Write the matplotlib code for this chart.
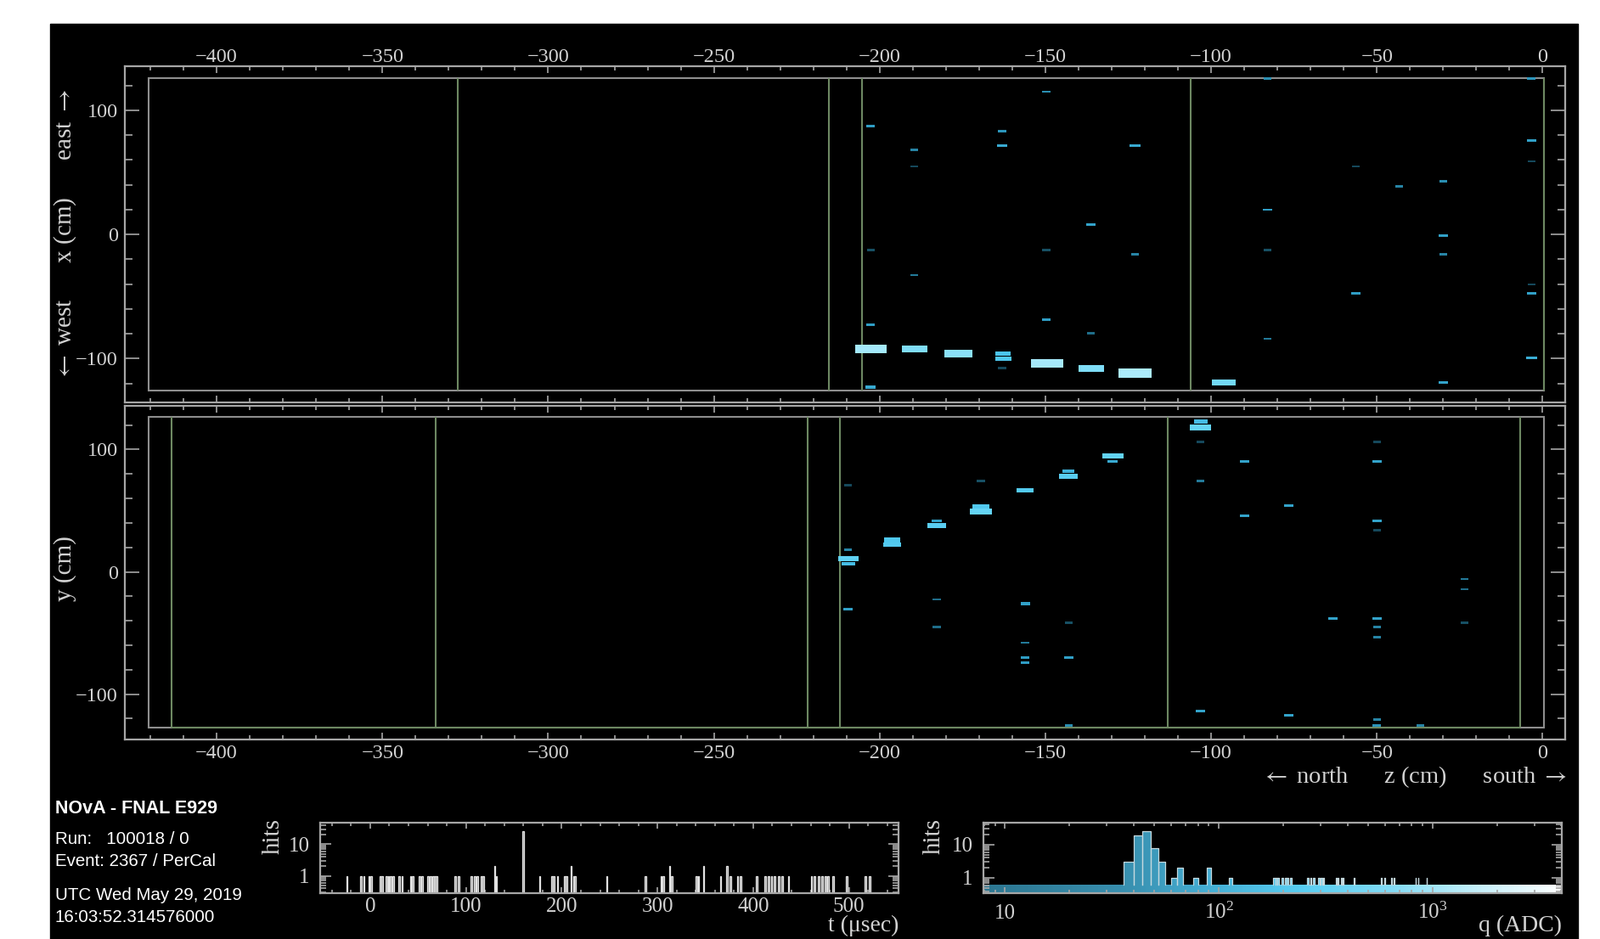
import numpy as np
import matplotlib
matplotlib.use('Agg')
import matplotlib.pyplot as plt
from matplotlib.patches import Rectangle, Polygon
from matplotlib.colors import LinearSegmentedColormap, Normalize
from matplotlib.ticker import MultipleLocator, LogLocator, NullFormatter, FixedLocator, FixedFormatter
import matplotlib.transforms as mtransforms

plt.rcParams['font.family'] = ['Liberation Serif', 'DejaVu Serif', 'DejaVu Sans']
plt.rcParams['mathtext.fontset'] = 'stix'

# detector outline / boundaries (cm)
det_z = [-420.6, 0.3]
det_x = [-126.0, 126.0]
det_y = [-127.3, 126.9]
xz_lines = [-327.4, -215.2, -205.3, -106.3]
yz_lines = [-413.5, -333.9, -221.7, -211.9, -113.1, -6.9]

# hits, top view (z, x, q in ADC)
xz_z = [-202.6, -189.4, -176.2, -162.7, -162.7, -149.4, -136.2, -122.9, -96.2,
        -202.7, -149.7, -163.1, -163.1, -123.0, -189.6, -189.6, -83.0, -3.4, -3.4,
        -3.4, -56.4, -30.0, -43.3, -83.0, -136.3, -30.0, -202.7, -149.7, -83.0,
        -123.0, -30.0, -189.6, -3.4, -56.4, -3.4, -202.7, -149.7, -136.3, -83.0,
        -163.1, -202.7, -30.0, -3.4]
xz_x = [-92.2, -92.0, -95.9, -95.9, -99.9, -103.9, -107.9, -111.7, -119.3,
        87.4, 114.9, 83.3, 71.4, 71.4, 68.2, 54.9, 125.5, 125.5, 75.5,
        59.0, 54.9, 43.0, 38.9, 19.9, 8.0, -1.1, -12.4, -12.4, -12.4,
        -16.0, -16.0, -32.7, -40.3, -47.6, -47.6, -72.5, -68.6, -79.6, -84.0,
        -107.6, -123.0, -119.0, -99.5]
xz_q = [640, 420, 480, 150, 170, 650, 420, 700, 360,
        50, 40, 45, 70, 70, 35, 12, 40, 45, 55,
        12, 12, 40, 35, 50, 60, 55, 14, 14, 14,
        35, 35, 30, 12, 50, 55, 50, 50, 25, 30,
        12, 70, 60, 80]

# hits, side view (z, y, q in ADC)
yz_z = [-209.5, -209.5, -196.2, -196.2, -182.8, -182.8, -169.5, -169.5, -156.1,
        -143.0, -143.0, -129.7, -129.7, -103.2, -103.2,
        -209.5, -209.5, -209.5, -169.5, -182.8, -182.8, -156.1, -156.1, -156.1,
        -156.1, -143.0, -143.0, -143.0, -103.2, -103.2, -103.2, -89.9, -89.9,
        -76.6, -76.6, -63.3, -50.0, -50.0, -50.0, -50.0, -50.0, -50.0, -50.0,
        -50.0, -50.0, -36.8, -23.5, -23.5, -23.5]
yz_y = [10.7, 6.5, 26.0, 22.1, 41.9, 37.7, 53.0, 49.5, 66.5,
        82.0, 78.0, 94.7, 90.2, 122.8, 117.7,
        70.7, 18.1, -30.2, 74.4, -22.6, -45.1, -26.0, -57.9, -70.2,
        -74.2, -41.4, -70.2, -125.6, 106.0, 74.4, -113.5, 90.5, 45.8,
        54.0, -117.4, -37.9, 106.0, 90.5, 41.9, 34.2, -37.9, -45.1, -53.5,
        -120.9, -125.6, -125.6, -5.8, -14.2, -41.4]
yz_q = [260, 120, 170, 190, 60, 230, 180, 300, 190,
        90, 220, 280, 70, 120, 300,
        12, 35, 55, 14, 25, 25, 55, 30, 50,
        50, 14, 55, 40, 12, 30, 60, 60, 60,
        60, 60, 60, 12, 60, 60, 12, 60, 35, 35,
        35, 45, 35, 30, 25, 14]

# timing histogram (usec, hits)
t_vals = [-24.3, -9.5, -6.5, -1.2, 0.9, 10.4, 12.7, 17.2, 19.2, 21.6, 24.0, 30.5,
          33.4, 42.3, 44.7, 51.2, 54.1, 60.1, 63.0, 65.4, 67.5, 69.5, 88.8, 92.6,
          105.9, 108.9, 111.8, 116.3, 118.3, 129.9, 131.7, 159.8, 176.9, 189.6,
          191.7, 195.6, 203.0, 205.0, 209.8, 212.4, 213.9, 247.0, 287.6, 303.8,
          306.2, 312.7, 314.8, 340.8, 342.9, 348.2, 366.0, 372.5, 376.3, 383.7,
          386.7, 403.8, 412.7, 416.3, 419.2, 422.2, 426.6, 430.5, 437.0, 460.7,
          464.2, 468.1, 471.9, 475.4, 478.4, 483.7, 497.6, 516.9, 521.3]
t_counts = [1] * len(t_vals)
for tt, cc in [(129.9, 2), (159.8, 26), (209.8, 2), (312.7, 2), (348.2, 2), (372.5, 2)]:
    t_counts[t_vals.index(tt)] = cc

# charge histogram (bin low edge in ADC, 4 ADC bins)
q_bin_lo = [36, 40, 44, 48, 52, 60, 64, 76, 88, 112, 180, 184, 188, 196, 204, 208,
            216, 260, 268, 276, 292, 300, 308, 352, 360, 372, 380, 428, 576, 596,
            640, 660, 832, 856, 940]
q_counts = [3, 19, 25, 8, 3, 1, 2, 1, 2, 1, 1, 1, 1, 1, 1, 1,
            1, 1, 1, 1, 1, 1, 1, 1, 1, 1, 1, 1, 1, 1,
            1, 1, 1, 1, 1]
q_bin_w = 4

info_lines = ['Run:   100018 / 0', 'Event: 2367 / PerCal', 'UTC Wed May 29, 2019',
              '16:03:52.314576000']

W, H = 1884, 1106
FRAME = '#a6a6a6'
TXT = '#d2d2d2'
GREEN = '#6d8862'
BOX = '#8e8e8e'
LARR, RARR = r'$\leftarrow$', r'$\rightarrow$'

hit_cmap = LinearSegmentedColormap.from_list('hits', [
    (0.0, '#123f50'), (0.2, '#1f6e8a'), (0.35, '#2f9dc4'), (0.6, '#4cc6ee'),
    (0.75, '#66d5f5'), (0.9, '#a2e8fb'), (1.0, '#c8f4ff')])
hit_norm = Normalize(1.0, 3.0)
q_cmap = LinearSegmentedColormap.from_list('qadc', [
    (0.0, '#2c7690'), (0.25, '#3890b0'), (0.4, '#45b0d6'), (0.55, '#57cdf2'),
    (0.7, '#7fdaf5'), (0.82, '#b5ecf9'), (1.0, '#ffffff')])

fig = plt.figure(figsize=(W / 100, H / 100), dpi=100, facecolor='white')
fig.patches.append(Rectangle((59 / W, 0), (1858 - 59) / W, (H - 28) / H,
                             transform=fig.transFigure, color='black', zorder=-5))


def px_ax(x0, y0, x1, y1):
    return fig.add_axes([x0 / W, 1 - y1 / H, (x1 - x0) / W, (y1 - y0) / H])


def ftext(x, y, s, **kw):
    fig.text(x / W, 1 - y / H, s, **kw)


def style(ax, size):
    ax.set_facecolor('black')
    for s in ax.spines.values():
        s.set_color(FRAME)
        s.set_linewidth(1.6)
    ax.tick_params(which='both', colors=FRAME, labelcolor=TXT, direction='in',
                   top=True, bottom=True, left=True, right=True, labelsize=size, width=1.2)


def draw_hits(ax, zs, ys, qs):
    for z, y, q in zip(zs, ys, qs):
        s = max(1.0, np.sqrt(q / 40.0))
        w = 2.4 * s
        h = 1.8 * s ** 0.95
        ax.add_patch(Rectangle((z - w / 2, y - h / 2), w, h, linewidth=0,
                               facecolor=hit_cmap(hit_norm(np.log10(q))), zorder=3))


# ---- top view (x vs z) and side view (y vs z)
ax1 = px_ax(147, 78, 1843, 473.5)
ax2 = px_ax(147, 477.5, 1843, 871)
for ax, ylim in [(ax1, (-135, 135.5)), (ax2, (-137, 136))]:
    style(ax, 17.5)
    ax.set_xlim(-427.7, 6.8)
    ax.set_ylim(*ylim)
    ax.xaxis.set_major_locator(MultipleLocator(50))
    ax.xaxis.set_minor_locator(MultipleLocator(10))
    ax.yaxis.set_major_locator(MultipleLocator(100))
    ax.yaxis.set_minor_locator(MultipleLocator(20))
    ax.tick_params(axis='x', which='major', length=6)
    ax.tick_params(axis='x', which='minor', length=3.5)
    ax.tick_params(axis='y', which='major', length=12, pad=6)
    ax.tick_params(axis='y', which='minor', length=6.5)

ax1.tick_params(axis='x', labeltop=True, labelbottom=False, pad=0)
ax2.tick_params(axis='x', labeltop=False, labelbottom=True, pad=4.5)

ax1.add_patch(Rectangle((det_z[0], det_x[0]), det_z[1] - det_z[0], det_x[1] - det_x[0],
                        fill=False, edgecolor=BOX, lw=1.5, zorder=2))
ax1.vlines(xz_lines + [det_z[1]], det_x[0], det_x[1], color=GREEN, lw=1.5, zorder=2)
draw_hits(ax1, xz_z, xz_x, xz_q)

ax2.add_patch(Rectangle((det_z[0], det_y[0]), det_z[1] - det_z[0], det_y[1] - det_y[0],
                        fill=False, edgecolor=BOX, lw=1.5, zorder=2))
ax2.vlines(yz_lines, det_y[0], det_y[1], color=GREEN, lw=1.5, zorder=2)
ax2.hlines(det_y[0], yz_lines[0], yz_lines[-1], color=GREEN, lw=1.5, zorder=2)
draw_hits(ax2, yz_z, yz_y, yz_q)

ftext(77, 277, LARR + ' west      x (cm)      east ' + RARR, rotation=90, ha='center',
      va='center', color=TXT, fontsize=21)
ftext(77, 670, 'y (cm)', rotation=90, ha='center', va='center', color=TXT, fontsize=21)
ftext(1845, 915, LARR + ' north      z (cm)      south ' + RARR, ha='right', va='center',
      color=TXT, fontsize=20.5)

# ---- timing histogram
axt = px_ax(377.3, 969, 1058.3, 1051.7)
style(axt, 18)
axt.set_yscale('log')
t_floor = 0.29
axt.set_xlim(-52, 552)
axt.set_ylim(t_floor, 48)
axt.bar(t_vals, np.array(t_counts) - t_floor, bottom=t_floor, width=1.5,
        color='#9a9a9a', edgecolor='#e2e2e2', linewidth=0.9, zorder=2)
axt.xaxis.set_major_locator(MultipleLocator(100))
axt.xaxis.set_minor_locator(MultipleLocator(20))
axt.yaxis.set_major_locator(FixedLocator([1, 10]))
axt.yaxis.set_major_formatter(FixedFormatter(['1', '10']))
axt.yaxis.set_minor_locator(LogLocator(subs=np.arange(2, 10)))
axt.yaxis.set_minor_formatter(NullFormatter())
axt.tick_params(axis='x', which='major', length=5, pad=3.5)
axt.tick_params(axis='x', which='minor', length=3)
axt.tick_params(axis='y', which='major', length=9, pad=9)
axt.tick_params(axis='y', which='minor', length=5)
ftext(322, 985, 'hits', rotation=90, ha='center', va='center', color=TXT, fontsize=21)
ftext(1058, 1090, 't (\u03bcsec)', ha='right', va='center', color=TXT, fontsize=20)

# ---- charge histogram
axq = px_ax(1158.3, 969, 1839.3, 1052.3)
style(axq, 18)
axq.set_xscale('log')
axq.set_yscale('log')
qmin, qmax = 7.96, 4036
qy0, qy1 = 0.34, 46
q_floor = 0.64
axq.set_xlim(qmin, qmax)
axq.set_ylim(qy0, qy1)

verts = [(qmin, qy0), (qmin, q_floor)]
for lo, c in zip(q_bin_lo, q_counts):
    hi = lo + q_bin_w
    verts += [(lo, q_floor), (lo, c), (hi, c), (hi, q_floor)]
verts += [(qmax, q_floor), (qmax, qy0)]
clip = Polygon(verts, closed=True, facecolor='none', edgecolor='none',
               transform=axq.transData)
axq.add_patch(clip)
qe = np.logspace(np.log10(qmin), np.log10(qmax), 400)
qc = np.log10(np.sqrt(qe[:-1] * qe[1:]))
mesh = axq.pcolormesh(qe, [qy0, qy1], qc[np.newaxis, :], cmap=q_cmap,
                      norm=Normalize(np.log10(qmin), np.log10(qmax)),
                      shading='flat', zorder=1)
mesh.set_clip_path(clip)
for lo, c in zip(q_bin_lo, q_counts):
    hi = lo + q_bin_w
    axq.plot([lo, lo, hi, hi], [q_floor, c, c, q_floor], color='#c4d8de',
             lw=0.9, zorder=2)

axq.xaxis.set_major_locator(FixedLocator([10, 100, 1000]))
axq.xaxis.set_major_formatter(NullFormatter())
axq.xaxis.set_minor_locator(LogLocator(subs=np.arange(2, 10)))
axq.xaxis.set_minor_formatter(NullFormatter())
axq.yaxis.set_major_locator(FixedLocator([1, 10]))
axq.yaxis.set_major_formatter(FixedFormatter(['1', '10']))
axq.yaxis.set_minor_locator(LogLocator(subs=np.arange(2, 10)))
axq.yaxis.set_minor_formatter(NullFormatter())
axq.tick_params(axis='x', which='major', length=5)
axq.tick_params(axis='x', which='minor', length=3)
axq.tick_params(axis='y', which='major', length=9, pad=9)
axq.tick_params(axis='y', which='minor', length=5)
blend = mtransforms.blended_transform_factory(axq.transData, axq.transAxes)
for qv, lab in zip([10, 100, 1000], ['10', r'$\mathregular{10^{2}}$', r'$\mathregular{10^{3}}$']):
    axq.text(qv, -0.36, lab, transform=blend, ha='center', va='baseline',
             color=TXT, fontsize=18)
ftext(1100, 985, 'hits', rotation=90, ha='center', va='center', color=TXT, fontsize=21)
ftext(1839, 1090, 'q (ADC)', ha='right', va='center', color=TXT, fontsize=20)

# ---- run info
ftext(65, 953, 'NOvA - FNAL E929', family=['Liberation Sans', 'DejaVu Sans'],
      fontweight='bold', fontsize=15.5, color='white', va='center')
for yy, line in zip([989, 1015, 1054, 1080], info_lines):
    ftext(65, yy, line, family=['Liberation Sans', 'DejaVu Sans'], fontsize=14.8,
          color='white', va='center')

fig.savefig('out.png', dpi=100, facecolor='white')
